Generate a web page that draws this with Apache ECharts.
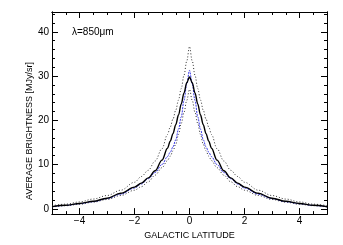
<!DOCTYPE html>
<html><head><meta charset="utf-8">
<script src="https://cdn.jsdelivr.net/npm/echarts@6/dist/echarts.min.js"></script>
<style>html,body{margin:0;padding:0;background:#fff}#c{width:343px;height:245px}</style>
</head><body><div id="c"></div>
<script>
const latitude = [-5,-4.5,-4,-3.5,-3,-2.5,-2,-1.75,-1.5,-1.25,-1,-0.8,-0.7,-0.6,-0.5,-0.4,-0.3,-0.2,-0.1,0,0.1,0.2,0.3,0.4,0.5,0.6,0.7,0.8,1,1.25,1.5,1.75,2,2.5,3,3.5,4,4.5,5];
const meanBrightness = [0.5,0.8,1.2,1.7,2.4,3.5,4.9,5.8,7.0,8.6,11.0,13.7,15.3,17,19,21.2,23.7,26.2,28.5,29.8,28.5,26.2,23.7,21.2,19,17,15.3,13.7,11.0,8.6,7.0,5.8,4.9,3.5,2.4,1.7,1.2,0.8,0.5];
const modelBrightness = [0.45,0.75,1.15,1.6,2.3,3.3,4.7,5.6,6.8,8.2,10.0,11.8,12.8,14.0,15.6,18.0,20.8,24.5,28.2,31.3,28.2,24.5,20.8,18.0,15.6,14.0,12.8,11.8,10.0,8.2,6.8,5.6,4.7,3.3,2.3,1.6,1.15,0.75,0.45];
const upperBrightness = [0.7,1.05,1.55,2.2,3.0,4.2,6.0,7.3,8.7,10.8,13.6,16.8,18.5,20.3,22.3,24.6,27.2,30.2,33.4,36.7,33.4,30.2,27.2,24.6,22.3,20.3,18.5,16.8,13.6,10.8,8.7,7.3,6.0,4.2,3.0,2.2,1.55,1.05,0.7];
const lowerBrightness = [0.4,0.7,1.0,1.5,2.1,3.0,4.2,5.0,6.1,7.6,9.3,10.9,11.9,13.1,14.6,16.8,19.3,21.8,24.5,27,24.5,21.8,19.3,16.8,14.6,13.1,11.9,10.9,9.3,7.6,6.1,5.0,4.2,3.0,2.1,1.5,1.0,0.7,0.4];
const xMajorTicks = [-4,-2,0,2,4];
const xMinorTicks = [-4.5,-3.5,-3,-2.5,-1.5,-1,-0.5,0.5,1,1.5,2.5,3,3.5,4.5];
const yMajorTicks = [0,10,20,30,40];
const yMinorTicks = [2,4,6,8,12,14,16,18,22,24,26,28,32,34,36,38,42,44];

const FONT = 'Liberation Sans';
const line = {show:true, onZero:false, lineStyle:{color:'#000', width:1}};
function xAx(pos, ticks, len, labels){
  return {type:'value', position:pos, min:-5, max:5, axisLine:line,
    splitLine:{show:false},
    axisTick:{show:true, inside:true, length:len, customValues:ticks, lineStyle:{color:'#000',width:1}},
    axisLabel: labels ? {show:true, customValues:ticks, margin:2, color:'#000', fontFamily:FONT, fontSize:10,
      formatter:v=>String(v).replace('-','\u2212')} : {show:false}};
}
function yAx(pos, ticks, len, labels){
  return {type:'value', position:pos, min:-1.2, max:44.5, axisLine:line,
    splitLine:{show:false},
    axisTick:{show:true, inside:true, length:len, customValues:ticks, lineStyle:{color:'#000',width:1}},
    axisLabel: labels ? {show:true, customValues:ticks, margin:3, color:'#000', fontFamily:FONT, fontSize:10} : {show:false}};
}
const xAxes = [xAx('bottom', xMajorTicks, 6, true), xAx('bottom', xMinorTicks, 3, false), xAx('top', xMajorTicks, 6, false), xAx('top', xMinorTicks, 3, false)];
xAxes[0].name = 'GALACTIC LATITUDE';
xAxes[0].nameLocation = 'middle';
xAxes[0].nameGap = 9;
xAxes[0].nameTextStyle = {color:'#000', fontFamily:FONT, fontSize:9};
const yAxes = [yAx('left', yMajorTicks, 6, true), yAx('left', yMinorTicks, 3, false), yAx('right', yMajorTicks, 6, false), yAx('right', yMinorTicks, 3, false)];

function pairs(ys){ return latitude.map((x,i)=>[x, ys[i]]); }
function ser(ys, color, width, type, z){
  return {type:'line', data:pairs(ys), showSymbol:false, smooth:0.35, smoothMonotone:'x',
    lineStyle:{color:color, width:width, type:type}, z:z, silent:true, animation:false};
}
const chart = echarts.init(document.getElementById('c'));
chart.setOption({
  animation:false,
  backgroundColor:'#fff',
  grid:{left:52, right:16, top:12, bottom:23, containLabel:false},
  xAxis:xAxes, yAxis:yAxes,
  series:[
    ser(upperBrightness, '#333', 1, [1,2], 2),
    ser(lowerBrightness, '#333', 1, [1,2], 2),
    ser(modelBrightness, '#3b3be8', 1, [2,1], 3),
    ser(meanBrightness, '#000', 1.4, 'solid', 4)
  ],
  graphic:[
    {type:'text', left:72, top:27, style:{text:'\u03bb=850\u03bcm', fill:'#000', font:'10px "Liberation Sans"'}},
    {type:'text', x:30, y:131, rotation:Math.PI/2, style:{text:'AVERAGE BRIGHTNESS [MJy/sr]', fill:'#000', font:'9px "Liberation Sans"', align:'center', verticalAlign:'middle'}}
  ]
});
</script></body></html>
